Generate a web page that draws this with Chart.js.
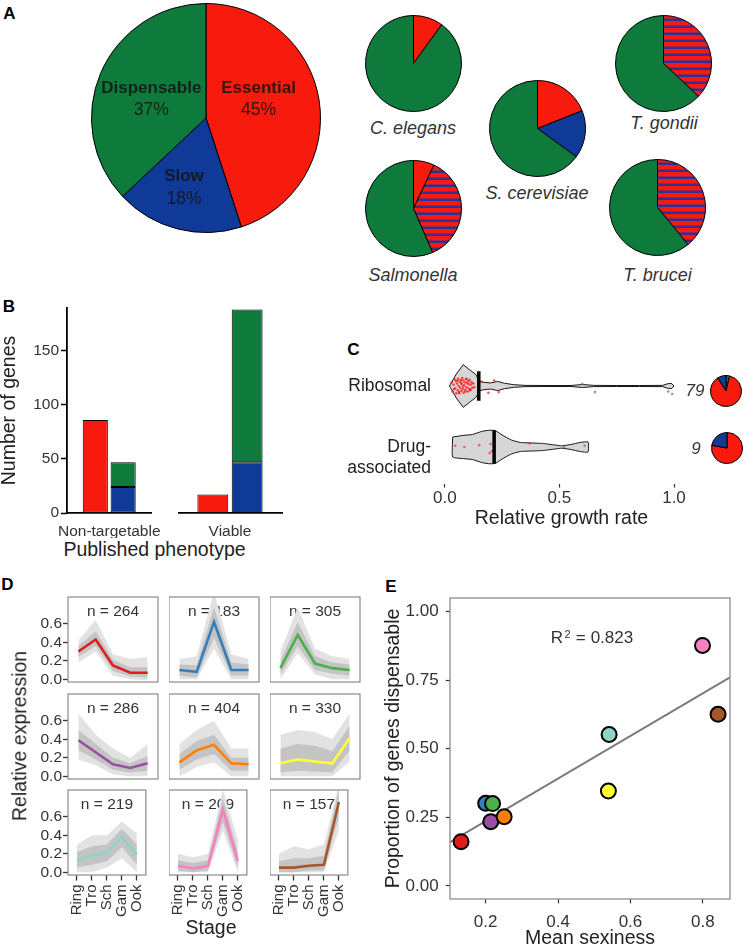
<!DOCTYPE html>
<html>
<head>
<meta charset="utf-8">
<script src="https://cdn.jsdelivr.net/npm/chart.js@4.4.1/dist/chart.umd.min.js"></script>
<style>
  html, body { margin: 0; padding: 0; background: #fff; overflow: hidden; }
  #stage { position: relative; width: 744px; height: 950px; overflow: hidden;
           font-family: "Liberation Sans", Arial, sans-serif; color: #222; }
  #stage canvas { position: absolute; }
  .txt { position: absolute; white-space: nowrap; line-height: 1; transform: translate(-50%, -50%); }
</style>
</head>
<body>
<div id="stage"></div>
<script>
// ---------------- data ----------------
// A: P. berghei phenotype shares and other species
const phenotypes = ['Essential', 'Slow', 'Dispensable'];
const pbergheiShare = [45, 18, 37];
const species = ['C. elegans', 'S. cerevisiae', 'T. gondii', 'Salmonella', 'T. brucei'];
const speciesEssential = [10, 19, 0, 7, 0];
const speciesSlow = [0, 16, 0, 0, 0];
const speciesReduced = [0, 0, 37, 36.5, 39];   // essential or slow, not separated (striped)
const speciesDispensable = [90, 65, 63, 56.5, 61];

// B: published phenotype
const bGroups = ['Non-targetable', 'Viable'];
const bEssential = [86, 17];
const bSlow = [24, 47];
const bDispensable = [23, 141];
const bTicks = [0, 50, 100, 150];

// C: relative growth rate
const cGroups = ['Ribosomal', 'Drug-associated'];
const cCounts = [79, 9];
const cMedian = [0.148, 0.215];
const cTicks = [0, 0.5, 1];
const ribGridX = [0.02, 0.05, 0.08, 0.11, 0.135, 0.15, 0.17, 0.20, 0.23, 0.26, 0.30, 0.35, 0.45, 0.55, 0.60, 0.65, 0.75, 0.85, 0.95, 0.975, 0.99, 1.00];
const ribHalf = [0, 0.197, 0.35, 0.26, 0.19, 0.08, 0.06, 0.05, 0.075, 0.045, 0.022, 0.01, 0.008, 0.008, 0.025, 0.01, 0.008, 0.008, 0.01, 0.04, 0.04, 0];
const drugGridX = [0.034, 0.08, 0.12, 0.16, 0.19, 0.22, 0.25, 0.29, 0.33, 0.38, 0.43, 0.48, 0.51, 0.55, 0.59, 0.625];
const drugHalf = [0.164, 0.19, 0.205, 0.254, 0.274, 0.27, 0.197, 0.115, 0.074, 0.066, 0.057, 0.033, 0.02, 0.041, 0.074, 0.082];
const ribDotX = [0.030, 0.034, 0.038, 0.042, 0.045, 0.048, 0.050, 0.053, 0.056, 0.058,
                 0.060, 0.062, 0.065, 0.067, 0.070, 0.072, 0.074, 0.076, 0.078, 0.080,
                 0.082, 0.085, 0.087, 0.090, 0.092, 0.095, 0.097, 0.100, 0.102, 0.105,
                 0.108, 0.110, 0.113, 0.116, 0.120, 0.124, 0.128, 0.040, 0.055, 0.063,
                 0.071, 0.079, 0.088, 0.094, 0.103, 0.112, 0.160, 0.190, 0.215, 0.235];
const ribDotJit = [0.06, -0.09, 0.02, 0.11, -0.04, 0.08, -0.12, 0.04, -0.07, 0.12,
                   0.00, -0.10, 0.07, -0.03, 0.10, -0.08, 0.03, 0.13, -0.05, 0.09,
                   -0.11, 0.01, 0.06, -0.06, 0.11, -0.02, 0.05, -0.09, 0.08, -0.04,
                   0.10, -0.07, 0.02, 0.06, -0.03, 0.04, -0.02, -0.05, 0.09, -0.12,
                   0.05, -0.01, -0.09, 0.12, 0.03, -0.06, 0.07, -0.11, 0.09, -0.10];
const ribOtherX = [0.60, 0.655, 0.975, 0.992];
const ribOtherJit = [0.03, -0.10, -0.09, -0.13];
const drugDotX = [0.045, 0.085, 0.150, 0.195, 0.200, 0.205, 0.370];
const drugDotJit = [0.02, 0.00, 0.03, -0.10, 0.05, -0.07, 0.06];
const drugOtherX = [0.52, 0.61];
const drugOtherJit = [-0.01, 0.02];
const cPieDispensable = [3, 0];
const cPieEssential = [69, 7];
const cPieSlow = [7, 2];

// D: expression clusters
const stages = ['Ring', 'Tro', 'Sch', 'Gam', 'Ook'];
const exprTicks = [0, 0.2, 0.4, 0.6];
const clusterN = [264, 183, 305, 286, 404, 330, 219, 209, 157];
const clusterColor = ['#E41A1C', '#377EB8', '#4DAF4A', '#984EA3', '#FF7F00', '#FFFF33', '#8DD3C7', '#F781BF', '#A65628'];
const clusterMean = [
  [0.30, 0.43, 0.15, 0.07, 0.07],
  [0.10, 0.08, 0.62, 0.10, 0.10],
  [0.12, 0.48, 0.17, 0.12, 0.10],
  [0.39, 0.26, 0.13, 0.09, 0.14],
  [0.15, 0.28, 0.34, 0.14, 0.13],
  [0.14, 0.18, 0.16, 0.14, 0.41],
  [0.13, 0.18, 0.21, 0.38, 0.19],
  [0.07, 0.04, 0.07, 0.68, 0.12],
  [0.05, 0.05, 0.07, 0.08, 0.76]
];
const exprCoreHi = [
  [0.36, 0.52, 0.21, 0.13, 0.13], [0.16, 0.15, 0.78, 0.18, 0.16], [0.20, 0.62, 0.25, 0.18, 0.16],
  [0.50, 0.35, 0.20, 0.14, 0.22], [0.24, 0.38, 0.45, 0.20, 0.20], [0.30, 0.35, 0.33, 0.27, 0.55],
  [0.22, 0.28, 0.30, 0.47, 0.30], [0.13, 0.10, 0.13, 0.80, 0.22], [0.12, 0.15, 0.15, 0.18, 0.90]
];
const exprCoreLo = [
  [0.24, 0.36, 0.09, 0.03, 0.02], [0.04, 0.02, 0.45, 0.04, 0.04], [0.05, 0.36, 0.10, 0.06, 0.04],
  [0.28, 0.18, 0.07, 0.04, 0.06], [0.07, 0.18, 0.24, 0.06, 0.06], [0.04, 0.06, 0.05, 0.04, 0.28],
  [0.05, 0.08, 0.12, 0.27, 0.08], [0.02, 0.00, 0.02, 0.55, 0.04], [0.00, 0.00, 0.02, 0.02, 0.60]
];
const exprOuterHi = [
  [0.42, 0.64, 0.27, 0.22, 0.24], [0.22, 0.25, 0.95, 0.27, 0.22], [0.30, 0.78, 0.33, 0.25, 0.22],
  [0.68, 0.45, 0.30, 0.20, 0.35], [0.35, 0.50, 0.60, 0.30, 0.30], [0.45, 0.50, 0.48, 0.40, 0.68],
  [0.30, 0.40, 0.40, 0.55, 0.42], [0.20, 0.16, 0.20, 0.90, 0.35], [0.20, 0.28, 0.25, 0.30, 0.95]
];
const exprOuterLo = [
  [0.18, 0.30, 0.04, 0.00, -0.01], [0.00, 0.00, 0.33, 0.00, 0.00], [0.00, 0.28, 0.05, 0.00, 0.00],
  [0.18, 0.12, 0.02, 0.00, 0.00], [0.00, 0.10, 0.15, 0.00, 0.00], [0.00, 0.00, 0.00, 0.00, 0.16],
  [0.00, 0.00, 0.05, 0.15, 0.00], [0.00, 0.00, 0.00, 0.45, 0.00], [0.00, 0.00, 0.00, 0.00, 0.45]
];

// E: sexiness vs dispensability
const sexiness = [0.132, 0.200, 0.219, 0.214, 0.251, 0.539, 0.541, 0.799, 0.842];
const dispensableShare = [0.161, 0.301, 0.300, 0.234, 0.252, 0.346, 0.552, 0.877, 0.626];
const fitSlope = 0.777, fitIntercept = 0.081, r2Value = 0.823;
const sexTicks = [0.2, 0.4, 0.6, 0.8];
const shareTicks = [0, 0.25, 0.5, 0.75, 1];

// ---------------- setup ----------------
const RED = '#F81A0C', BLUE = '#103A97', GREEN = '#0E7B3D';
const FONT = '"Liberation Sans", Arial, sans-serif';
const stage = document.getElementById('stage');

Chart.defaults.font.family = FONT;
Chart.defaults.color = '#333';
Chart.defaults.animation = false;
Chart.defaults.responsive = false;
Chart.defaults.maintainAspectRatio = false;
Chart.defaults.events = [];
Chart.defaults.layout.autoPadding = false;
Chart.defaults.plugins.legend.display = false;
Chart.defaults.plugins.tooltip.enabled = false;

function canvasAt(left, top, w, h) {
  const c = document.createElement('canvas');
  c.width = w; c.height = h;
  c.style.left = left + 'px'; c.style.top = top + 'px';
  c.style.width = w + 'px'; c.style.height = h + 'px';
  stage.appendChild(c);
  return c;
}

function text(str, x, y, style, rotate) {
  const d = document.createElement('div');
  d.className = 'txt';
  d.textContent = str;
  d.style.left = x + 'px';
  d.style.top = y + 'px';
  Object.assign(d.style, style || {});
  if (rotate) d.style.transform = 'translate(-50%, -50%) rotate(' + rotate + 'deg)';
  stage.appendChild(d);
}

function stripes() {
  const p = document.createElement('canvas');
  p.width = 10; p.height = 7;
  const g = p.getContext('2d');
  g.fillStyle = RED; g.fillRect(0, 0, 10, 7);
  g.fillStyle = '#2d2f9b'; g.fillRect(0, 4.5, 10, 2.5);
  return g.createPattern(p, 'repeat');
}

function pieChart(cx, cy, r, values, colors, plugins) {
  const size = Math.round(2 * r + 3);
  const keep = values.map((v, i) => i).filter(i => values[i] > 0);
  return new Chart(canvasAt(Math.round(cx - size / 2), Math.round(cy - size / 2), size, size), {
    type: 'pie',
    data: {
      labels: keep.map(i => i),
      datasets: [{
        data: keep.map(i => values[i]),
        backgroundColor: keep.map(i => colors[i]),
        borderColor: '#000', borderWidth: 1, hoverOffset: 0
      }]
    },
    options: { layout: { padding: 1 } },
    plugins: plugins || []
  });
}

// panel letters
[['A', 9.5, 12.5], ['B', 9, 306], ['C', 353.5, 348.5], ['D', 7.5, 584], ['E', 391, 585.5]].forEach(l =>
  text(l[0], l[1], l[2], { fontWeight: 'bold', fontSize: '17px', color: '#000' }));

// ---------------- A ----------------
const bigPieLabelOffset = [[52.6, -30], [-22, 58.7], [-54.7, -30]];
const bigPieLabels = {
  id: 'bigPieLabels',
  afterDatasetsDraw(chart) {
    const arc = chart.getDatasetMeta(0).data[0];
    const ctx = chart.ctx;
    ctx.save();
    ctx.textAlign = 'center';
    ctx.textBaseline = 'middle';
    ctx.fillStyle = 'rgba(20,20,20,0.85)';
    phenotypes.forEach((name, i) => {
      const [dx, dy] = bigPieLabelOffset[i];
      ctx.font = 'bold 17px ' + FONT;
      ctx.fillText(name, arc.x + dx, arc.y + dy);
      ctx.font = '17.5px ' + FONT;
      ctx.fillText(pbergheiShare[i] + '%', arc.x + dx, arc.y + dy + 22);
    });
    ctx.restore();
  }
};
pieChart(205.7, 118, 114.5, pbergheiShare, [RED, BLUE, GREEN], [bigPieLabels]);

const STRIPE = stripes();
const speciesPos = [[413.5, 63], [537, 128.5], [663, 63], [413.5, 208.5], [657.5, 207]];
const speciesLabelPos = [[413, 128], [537, 193], [664, 123], [413, 275], [657.5, 275]];
species.forEach((name, i) => {
  pieChart(speciesPos[i][0], speciesPos[i][1], 48,
    [speciesEssential[i], speciesSlow[i], speciesReduced[i], speciesDispensable[i]],
    [RED, BLUE, STRIPE, GREEN]);
  text(name, speciesLabelPos[i][0], speciesLabelPos[i][1], { fontStyle: 'italic', fontSize: '18px', color: '#333' });
});

// ---------------- B ----------------
function phenotypeFacet(i, left, width, showY) {
  const yAxisW = showY ? 67 : 0;
  new Chart(canvasAt(left - yAxisW, 288, width + yAxisW + 1, 250), {
    type: 'bar',
    data: {
      labels: [bGroups[i]],
      datasets: [
        { data: [bEssential[i]], backgroundColor: RED, stack: 'e' },
        { data: [bSlow[i]], backgroundColor: BLUE, stack: 'f' },
        { data: [bDispensable[i]], backgroundColor: GREEN, stack: 'f' }
      ]
    },
    options: {
      layout: { padding: { top: 20, right: 1 } },
      datasets: { bar: { borderColor: '#000', borderWidth: 1, borderSkipped: false, categoryPercentage: 0.66, barPercentage: 0.9 } },
      scales: {
        x: {
          stacked: true,
          grid: { display: false, drawTicks: false },
          border: { display: true, color: '#000', width: 1.8 },
          ticks: { font: { size: 15.5 }, padding: 9, color: '#333' },
          afterFit: s => { s.height = 25; }
        },
        y: {
          display: showY, stacked: true, min: 0, max: 189.5,
          afterBuildTicks: s => { s.ticks = bTicks.map(v => ({ value: v })); },
          grid: { drawOnChartArea: false, tickLength: 6, tickColor: '#000', tickWidth: 1.5 },
          border: { color: '#000', width: 1.8 },
          ticks: { font: { size: 15.5 }, padding: 2, color: '#333' },
          title: { display: true, text: 'Number of genes', font: { size: 19.5, lineHeight: 1 }, padding: 0, color: '#222' },
          afterFit: s => { s.width = yAxisW; }
        }
      }
    }
  });
}
phenotypeFacet(0, 67, 102, true);
phenotypeFacet(1, 178, 104, false);
text('Published phenotype', 154.5, 550, { fontSize: '19.5px' });

// ---------------- C ----------------
function violinPath(gridX, half, c) {
  const upper = gridX.map((x, i) => ({ x, y: c + half[i] }));
  const lower = gridX.map((x, i) => ({ x, y: c - half[i] })).reverse();
  return upper.concat(lower, [upper[0]]);
}
const cY = [2, 1];
const dots = (xs, jit, c) => xs.map((x, i) => ({ x, y: c + jit[i] }));
const medianBar = (m, c, h) => [{ x: m, y: c - h }, { x: m, y: c + h }];

new Chart(canvasAt(330, 324, 360, 206), {
  type: 'line',
  data: {
    datasets: [
      { data: medianBar(cMedian[0], cY[0], 0.24), borderColor: '#000', borderWidth: 3.5, borderCapStyle: 'butt' },
      { data: medianBar(cMedian[1], cY[1], 0.27), borderColor: '#000', borderWidth: 3.5, borderCapStyle: 'butt' },
      { data: dots(ribDotX, ribDotJit, cY[0]), showLine: false, pointRadius: 1.3, pointBackgroundColor: 'rgba(255,20,20,0.75)', pointBorderWidth: 0 },
      { data: dots(ribOtherX, ribOtherJit, cY[0]), showLine: false, pointRadius: 1.3, pointBackgroundColor: 'rgba(40,150,120,0.75)', pointBorderWidth: 0 },
      { data: dots(drugDotX, drugDotJit, cY[1]), showLine: false, pointRadius: 1.3, pointBackgroundColor: 'rgba(255,20,20,0.6)', pointBorderWidth: 0 },
      { data: dots(drugOtherX, drugOtherJit, cY[1]), showLine: false, pointRadius: 1.3, pointBackgroundColor: 'rgba(60,60,170,0.5)', pointBorderWidth: 0 },
      { data: violinPath(ribGridX, ribHalf, cY[0]), fill: 'shape', backgroundColor: '#d6d6d6', borderColor: '#000', borderWidth: 0.9, tension: 0 },
      { data: violinPath(drugGridX, drugHalf, cY[1]), fill: 'shape', backgroundColor: '#d6d6d6', borderColor: '#000', borderWidth: 0.9, tension: 0.15 }
    ]
  },
  options: {
    elements: { point: { radius: 0 } },
    layout: { padding: { top: 25.4, right: 5 } },
    scales: {
      x: {
        type: 'linear', min: -0.03, max: 1.048,
        afterBuildTicks: s => { s.ticks = cTicks.map(v => ({ value: v })); },
        ticks: { callback: v => v.toFixed(1), font: { size: 17, lineHeight: 1 }, padding: 2.5, color: '#333' },
        grid: { drawOnChartArea: false, tickLength: 4, tickColor: '#333', tickWidth: 1.2 },
        border: { display: false },
        title: { display: true, text: 'Relative growth rate', font: { size: 19.5 }, padding: 0, color: '#222' },
        afterFit: s => { s.height = 46.4; }
      },
      y: {
        type: 'linear', min: 0.4, max: 2.6,
        afterBuildTicks: s => { s.ticks = cY.slice().sort().map(v => ({ value: v })); },
        ticks: {
          callback: v => {
            const name = cGroups[cY.indexOf(v)];
            return name.includes('-') ? ['', name.split('-')[0] + '-', name.split('-')[1]] : name;
          },
          font: { size: 17.5 }, padding: 7, color: '#222'
        },
        grid: { display: false, drawTicks: false },
        border: { display: false },
        afterFit: s => { s.width = 108; }
      }
    }
  }
});
text(String(cCounts[0]), 695, 390, { fontStyle: 'italic', fontSize: '17px', color: '#333' });
text(String(cCounts[1]), 696, 448, { fontStyle: 'italic', fontSize: '17px', color: '#333' });
[[726, 391], [727, 448]].forEach((p, i) =>
  pieChart(p[0], p[1], 15.5, [cPieDispensable[i], cPieEssential[i], cPieSlow[i]], [GREEN, RED, BLUE]));

// ---------------- D ----------------
const panelLeft = [68, 169, 270], panelTop = [597, 694, 790], PW = 90, PH = 85;
function panelDecor(n) {
  return {
    id: 'panelDecor',
    beforeDatasetsDraw(chart) {
      const { ctx, chartArea: a } = chart;
      ctx.save();
      ctx.fillStyle = '#333';
      ctx.font = '15.5px ' + FONT;
      ctx.textAlign = 'center';
      ctx.textBaseline = 'middle';
      ctx.fillText('n = ' + n, (a.left + a.right) / 2, a.top + 15);
      ctx.restore();
    },
    afterDraw(chart) {
      const { ctx, chartArea: a } = chart;
      ctx.save();
      ctx.strokeStyle = '#8a8a8a';
      ctx.lineWidth = 1.2;
      ctx.strokeRect(a.left, a.top, a.right - a.left, a.bottom - a.top);
      ctx.restore();
    }
  };
}
clusterN.forEach((n, k) => {
  const row = Math.floor(k / 3), col = k % 3;
  const yw = col === 0 ? 42 : 0, xh = row === 2 ? 48 : 0;
  const padT = 14, padB = row < 2 ? 14 : 0;
  const series = arr => arr[k].map((y, i) => ({ x: i, y }));
  new Chart(canvasAt(panelLeft[col] - yw, panelTop[row] - padT, PW + yw + 1, PH + padT + padB + xh), {
    type: 'line',
    data: {
      datasets: [
        { data: series(clusterMean), borderColor: clusterColor[k], borderWidth: 2.6 },
        { data: series(exprCoreHi), fill: '+1', backgroundColor: '#c4c4c4', borderWidth: 0 },
        { data: series(exprCoreLo), borderWidth: 0 },
        { data: series(exprOuterHi), fill: '+1', backgroundColor: '#e2e2e2', borderWidth: 0 },
        { data: series(exprOuterLo), borderWidth: 0 }
      ]
    },
    options: {
      layout: { padding: { top: padT, right: 1, bottom: padB } },
      elements: { point: { radius: 0 }, line: { tension: 0 } },
      scales: {
        x: {
          type: 'linear', display: row === 2, min: -0.6, max: 4.6,
          afterBuildTicks: s => { s.ticks = stages.map((_, i) => ({ value: i })); },
          ticks: { callback: v => stages[v], autoSkip: false, minRotation: 90, maxRotation: 90, font: { size: 15 }, padding: 4, color: '#333' },
          grid: { drawOnChartArea: false, tickLength: 5.5, tickColor: '#333', tickWidth: 1.3 },
          border: { display: false },
          afterFit: s => { s.height = xh; }
        },
        y: {
          display: col === 0, min: -0.03, max: 0.89,
          afterBuildTicks: s => { s.ticks = exprTicks.map(v => ({ value: v })); },
          ticks: { callback: v => v.toFixed(1), autoSkip: false, font: { size: 15.5 }, padding: 1, color: '#333' },
          grid: { drawOnChartArea: false, tickLength: 5, tickColor: '#333', tickWidth: 1.3 },
          border: { display: false },
          afterFit: s => { s.width = yw; }
        }
      }
    },
    plugins: [panelDecor(n)]
  });
});
text('Relative expression', 20, 735.5, { fontSize: '19.5px' }, -90);
text('Stage', 211, 928, { fontSize: '19.5px' });

// ---------------- E ----------------
const sexMin = 0.1014, sexMax = 0.875;
const r2Pos = [0.38, 0.887];
const eDecor = {
  id: 'eDecor',
  afterDatasetsDraw(chart) {
    const { ctx, scales: { x, y } } = chart;
    let px = x.getPixelForValue(r2Pos[0]);
    const py = y.getPixelForValue(r2Pos[1]);
    ctx.save();
    ctx.fillStyle = '#333';
    ctx.textBaseline = 'alphabetic';
    ctx.font = '17px ' + FONT;
    ctx.fillText('R', px, py);
    px += ctx.measureText('R').width + 1.5;
    ctx.font = '11px ' + FONT;
    ctx.fillText('2', px, py - 5);
    px += ctx.measureText('2').width + 5;
    ctx.font = '17px ' + FONT;
    ctx.fillText('=', px, py);
    px += ctx.measureText('=').width + 5;
    ctx.fillText(r2Value.toFixed(3), px, py);
    ctx.restore();
  },
  afterDraw(chart) {
    const { ctx, chartArea: a } = chart;
    ctx.save();
    ctx.strokeStyle = '#8c8c8c';
    ctx.lineWidth = 1.3;
    ctx.strokeRect(a.left, a.top, a.right - a.left, a.bottom - a.top);
    ctx.restore();
  }
};
new Chart(canvasAt(380, 573, 364, 377), {
  type: 'scatter',
  data: {
    datasets: [
      {
        data: sexiness.map((x, i) => ({ x, y: dispensableShare[i] })),
        backgroundColor: clusterColor, borderColor: '#000', borderWidth: 2, pointRadius: 7.5
      },
      {
        type: 'line',
        data: [sexMin, sexMax].map(x => ({ x, y: fitIntercept + fitSlope * x })),
        borderColor: '#7a7a7a', borderWidth: 2, pointRadius: 0
      }
    ]
  },
  options: {
    layout: { padding: { top: 25, right: 14 } },
    scales: {
      x: {
        type: 'linear', min: sexMin, max: sexMax,
        afterBuildTicks: s => { s.ticks = sexTicks.map(v => ({ value: v })); },
        ticks: { callback: v => v.toFixed(1), font: { size: 17 }, padding: 9, color: '#333' },
        grid: { drawOnChartArea: false, tickLength: 4.3, tickColor: '#333', tickWidth: 1.2 },
        border: { display: false },
        title: { display: true, text: 'Mean sexiness', font: { size: 19.5 }, padding: 0, color: '#222' },
        afterFit: s => { s.height = 51; }
      },
      y: {
        type: 'linear', min: -0.048, max: 1.05,
        afterBuildTicks: s => { s.ticks = shareTicks.map(v => ({ value: v })); },
        ticks: { callback: v => v.toFixed(2), font: { size: 17 }, padding: 7, color: '#333' },
        grid: { drawOnChartArea: false, tickLength: 4.3, tickColor: '#333', tickWidth: 1.2 },
        border: { display: false },
        title: { display: true, text: 'Proportion of genes dispensable', font: { size: 19.5 }, padding: { top: 2 }, color: '#222' },
        afterFit: s => { s.width = 70; }
      }
    }
  },
  plugins: [eDecor]
});
</script>
</body>
</html>
